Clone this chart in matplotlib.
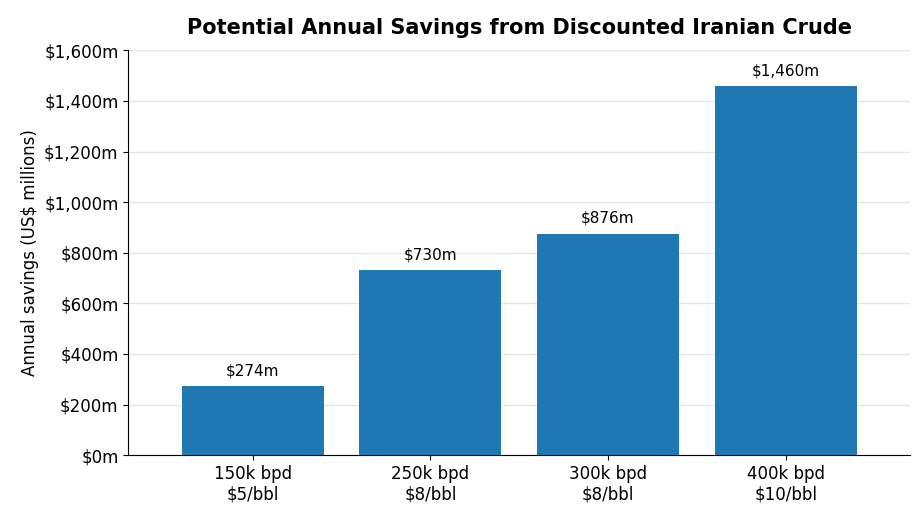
import numpy as np
import matplotlib.pyplot as plt
from matplotlib.ticker import FuncFormatter

categories = ['150k bpd\n$5/bbl', '250k bpd\n$8/bbl', '300k bpd\n$8/bbl', '400k bpd\n$10/bbl']
savings = [274, 730, 876, 1460]
labels = ['$274m', '$730m', '$876m', '$1,460m']

fig = plt.figure(figsize=(9.23, 5.19), dpi=100)
ax = fig.add_axes([0.139, 0.123, 0.847, 0.78])

x = np.arange(len(categories))
ax.bar(x, savings, width=0.8, color='#1f77b4', zorder=3)
for xi, v, lab in zip(x, savings, labels):
    ax.text(xi, v + 30, lab, ha='center', va='bottom', fontsize=11)

ax.set_xticks(x)
ax.set_xticklabels(categories, fontsize=12)
ax.set_ylim(0, 1600)
ax.set_yticks(np.arange(0, 1601, 200))
ax.yaxis.set_major_formatter(FuncFormatter(lambda v, p: '${:,.0f}m'.format(v)))
ax.tick_params(axis='y', labelsize=12)
ax.set_ylabel('Annual savings (US$ millions)', fontsize=12)
ax.set_title('Potential Annual Savings from Discounted Iranian Crude', fontsize=15, fontweight='bold', pad=12)
ax.grid(axis='y', color='#e6e6e6', linewidth=1, zorder=0)
ax.spines['top'].set_visible(False)
ax.spines['right'].set_visible(False)
ax.set_xlim(-0.7, 3.7)

fig.savefig('out.png', dpi=100)
